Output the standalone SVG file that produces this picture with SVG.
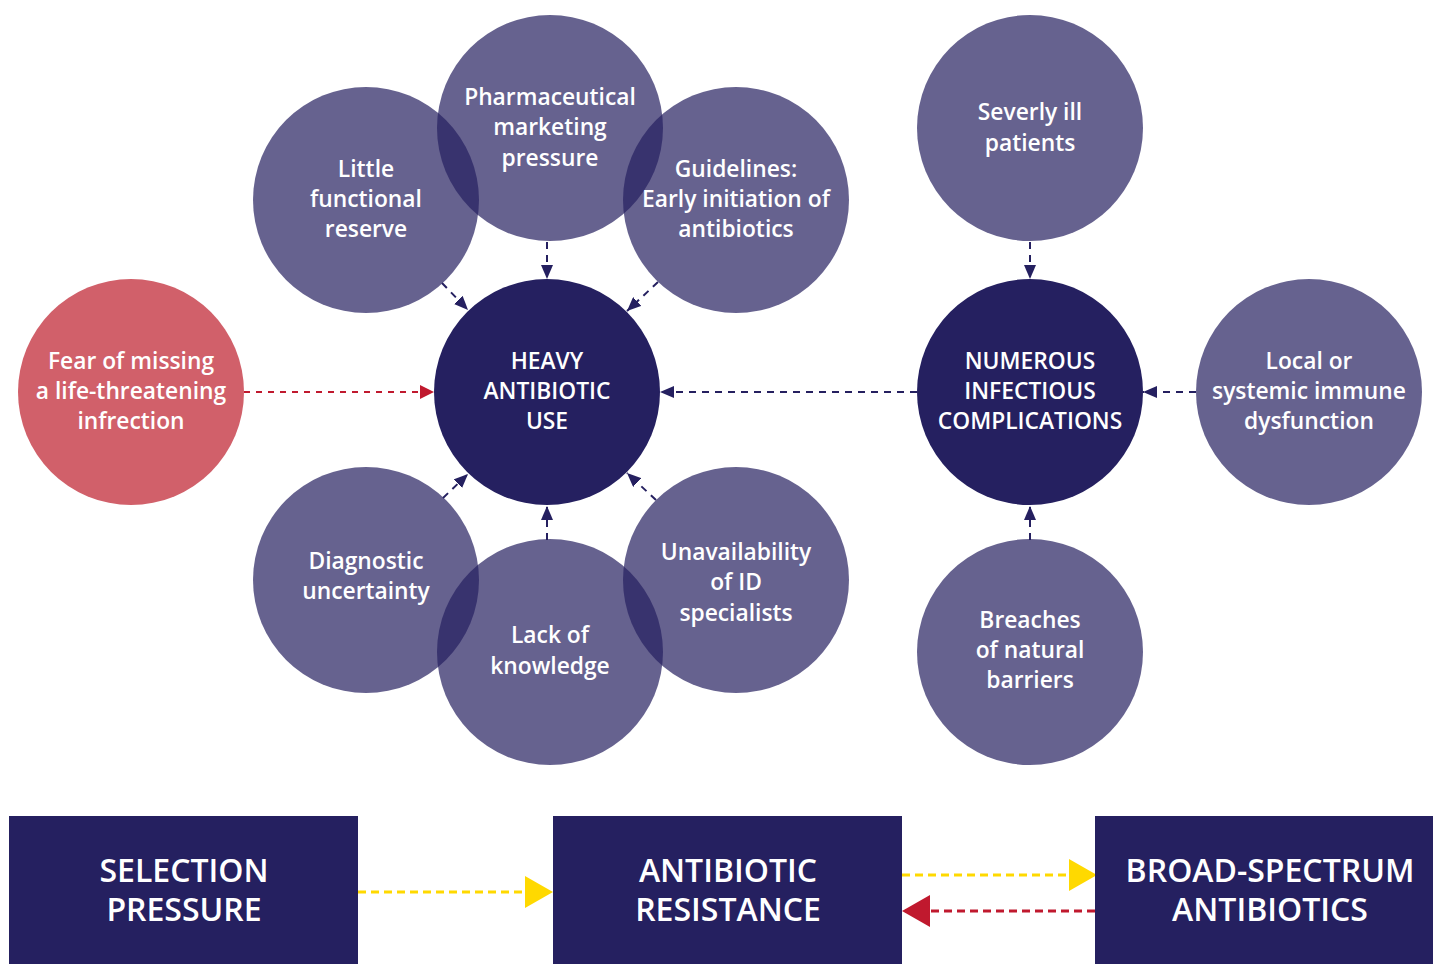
<svg xmlns="http://www.w3.org/2000/svg" width="1433" height="964" viewBox="0 0 1433 964">
<style>
.c{fill:#252060;fill-opacity:0.7}
.d{fill:#252060}
.r{fill:#d1606a}
.t{font-family:"Open Sans","Liberation Sans",sans-serif;font-size:22.8px;fill:#fff;text-anchor:middle;font-weight:600}
.b{font-family:"Open Sans","Liberation Sans",sans-serif;font-size:32px;fill:#fff;text-anchor:middle;font-weight:600}
.n{stroke:#252060;stroke-width:2;stroke-dasharray:7,6;fill:none}
.rd{stroke:#c0192e;stroke-width:2;stroke-dasharray:6,6;fill:none}
.y{stroke:#ffd900;stroke-width:3;stroke-dasharray:8,5;fill:none}
.rr{stroke:#c0192e;stroke-width:3;stroke-dasharray:8,5;fill:none}
</style>
<defs>
<marker id="an" markerWidth="14" markerHeight="12" refX="14" refY="6" orient="auto" markerUnits="userSpaceOnUse"><path d="M0,0L14,6L0,12Z" fill="#252060"/></marker>
<marker id="ar" markerWidth="14" markerHeight="14" refX="14" refY="7" orient="auto" markerUnits="userSpaceOnUse"><path d="M0,0L14,7L0,14Z" fill="#c0192e"/></marker>
<marker id="ay" markerWidth="28" markerHeight="32" refX="28" refY="16" orient="auto" markerUnits="userSpaceOnUse"><path d="M0,0L28,16L0,32Z" fill="#ffd900"/></marker>
<marker id="ar2" markerWidth="28" markerHeight="32" refX="28" refY="16" orient="auto" markerUnits="userSpaceOnUse"><path d="M0,0L28,16L0,32Z" fill="#c0192e"/></marker>
</defs>
<rect width="1433" height="964" fill="#fff"/>
<g id="connectors">
<line class="n" x1="547" y1="242" x2="547" y2="279" marker-end="url(#an)"/>
<line class="n" x1="442" y1="283" x2="468" y2="310" marker-end="url(#an)"/>
<line class="n" x1="658" y1="282" x2="627" y2="311" marker-end="url(#an)"/>
<line class="n" x1="443" y1="498" x2="468" y2="474" marker-end="url(#an)"/>
<line class="n" x1="656" y1="500" x2="627" y2="473" marker-end="url(#an)"/>
<line class="n" x1="547" y1="540" x2="547" y2="506" marker-end="url(#an)"/>
<line class="rd" x1="244" y1="392" x2="434" y2="392" marker-end="url(#ar)"/>
<line class="n" x1="917" y1="392" x2="660" y2="392" marker-end="url(#an)"/>
<line class="n" x1="1030" y1="242" x2="1030" y2="279" marker-end="url(#an)"/>
<line class="n" x1="1196" y1="392" x2="1143" y2="392" marker-end="url(#an)"/>
<line class="n" x1="1030" y1="540" x2="1030" y2="506" marker-end="url(#an)"/>
<line class="y" x1="358" y1="892" x2="553" y2="892" marker-end="url(#ay)"/>
<line class="y" x1="902" y1="875" x2="1097" y2="875" marker-end="url(#ay)"/>
<line class="rr" x1="1095" y1="911" x2="902" y2="911" marker-end="url(#ar2)"/>
</g>
<g id="little"><circle class="c" cx="366" cy="200" r="113"/><text class="t"><tspan x="366" y="177">Little</tspan><tspan x="366" y="207">functional</tspan><tspan x="366" y="237">reserve</tspan></text></g>
<g id="pharma"><circle class="c" cx="550" cy="128" r="113"/><text class="t"><tspan x="550" y="105">Pharmaceutical</tspan><tspan x="550" y="135">marketing</tspan><tspan x="550" y="166">pressure</tspan></text></g>
<g id="guidelines"><circle class="c" cx="736" cy="200" r="113"/><text class="t"><tspan x="736" y="177">Guidelines:</tspan><tspan x="736" y="207">Early initiation of</tspan><tspan x="736" y="237">antibiotics</tspan></text></g>
<g id="heavy"><circle class="d" cx="547" cy="392" r="113"/><text class="t"><tspan x="547" y="369">HEAVY</tspan><tspan x="547" y="399">ANTIBIOTIC</tspan><tspan x="547" y="429">USE</tspan></text></g>
<g id="fear"><circle class="r" cx="131" cy="392" r="113"/><text class="t"><tspan x="131" y="369">Fear of missing</tspan><tspan x="131" y="399">a life-threatening</tspan><tspan x="131" y="429">infrection</tspan></text></g>
<g id="diagnostic"><circle class="c" cx="366" cy="580" r="113"/><text class="t"><tspan x="366" y="569">Diagnostic</tspan><tspan x="366" y="599">uncertainty</tspan></text></g>
<g id="lack"><circle class="c" cx="550" cy="652" r="113"/><text class="t"><tspan x="550" y="643">Lack of</tspan><tspan x="550" y="674">knowledge</tspan></text></g>
<g id="unavail"><circle class="c" cx="736" cy="580" r="113"/><text class="t"><tspan x="736" y="560">Unavailability</tspan><tspan x="736" y="590">of ID</tspan><tspan x="736" y="621">specialists</tspan></text></g>
<g id="severly"><circle class="c" cx="1030" cy="128" r="113"/><text class="t"><tspan x="1030" y="120">Severly ill</tspan><tspan x="1030" y="151">patients</tspan></text></g>
<g id="numerous"><circle class="d" cx="1030" cy="392" r="113"/><text class="t"><tspan x="1030" y="369">NUMEROUS</tspan><tspan x="1030" y="399">INFECTIOUS</tspan><tspan x="1030" y="429">COMPLICATIONS</tspan></text></g>
<g id="local"><circle class="c" cx="1309" cy="392" r="113"/><text class="t"><tspan x="1309" y="369">Local or</tspan><tspan x="1309" y="399">systemic immune</tspan><tspan x="1309" y="429">dysfunction</tspan></text></g>
<g id="breaches"><circle class="c" cx="1030" cy="652" r="113"/><text class="t"><tspan x="1030" y="628">Breaches</tspan><tspan x="1030" y="658">of natural</tspan><tspan x="1030" y="688">barriers</tspan></text></g>
<g id="selection"><rect class="d" x="9" y="816" width="349" height="148"/><text class="b"><tspan x="184" y="882">SELECTION</tspan><tspan x="184" y="921">PRESSURE</tspan></text></g>
<g id="resistance"><rect class="d" x="553" y="816" width="349" height="148"/><text class="b"><tspan x="728" y="882">ANTIBIOTIC</tspan><tspan x="728" y="921">RESISTANCE</tspan></text></g>
<g id="broad"><rect class="d" x="1095" y="816" width="338" height="148"/><text class="b"><tspan x="1270" y="882">BROAD-SPECTRUM</tspan><tspan x="1270" y="921">ANTIBIOTICS</tspan></text></g>
</svg>
